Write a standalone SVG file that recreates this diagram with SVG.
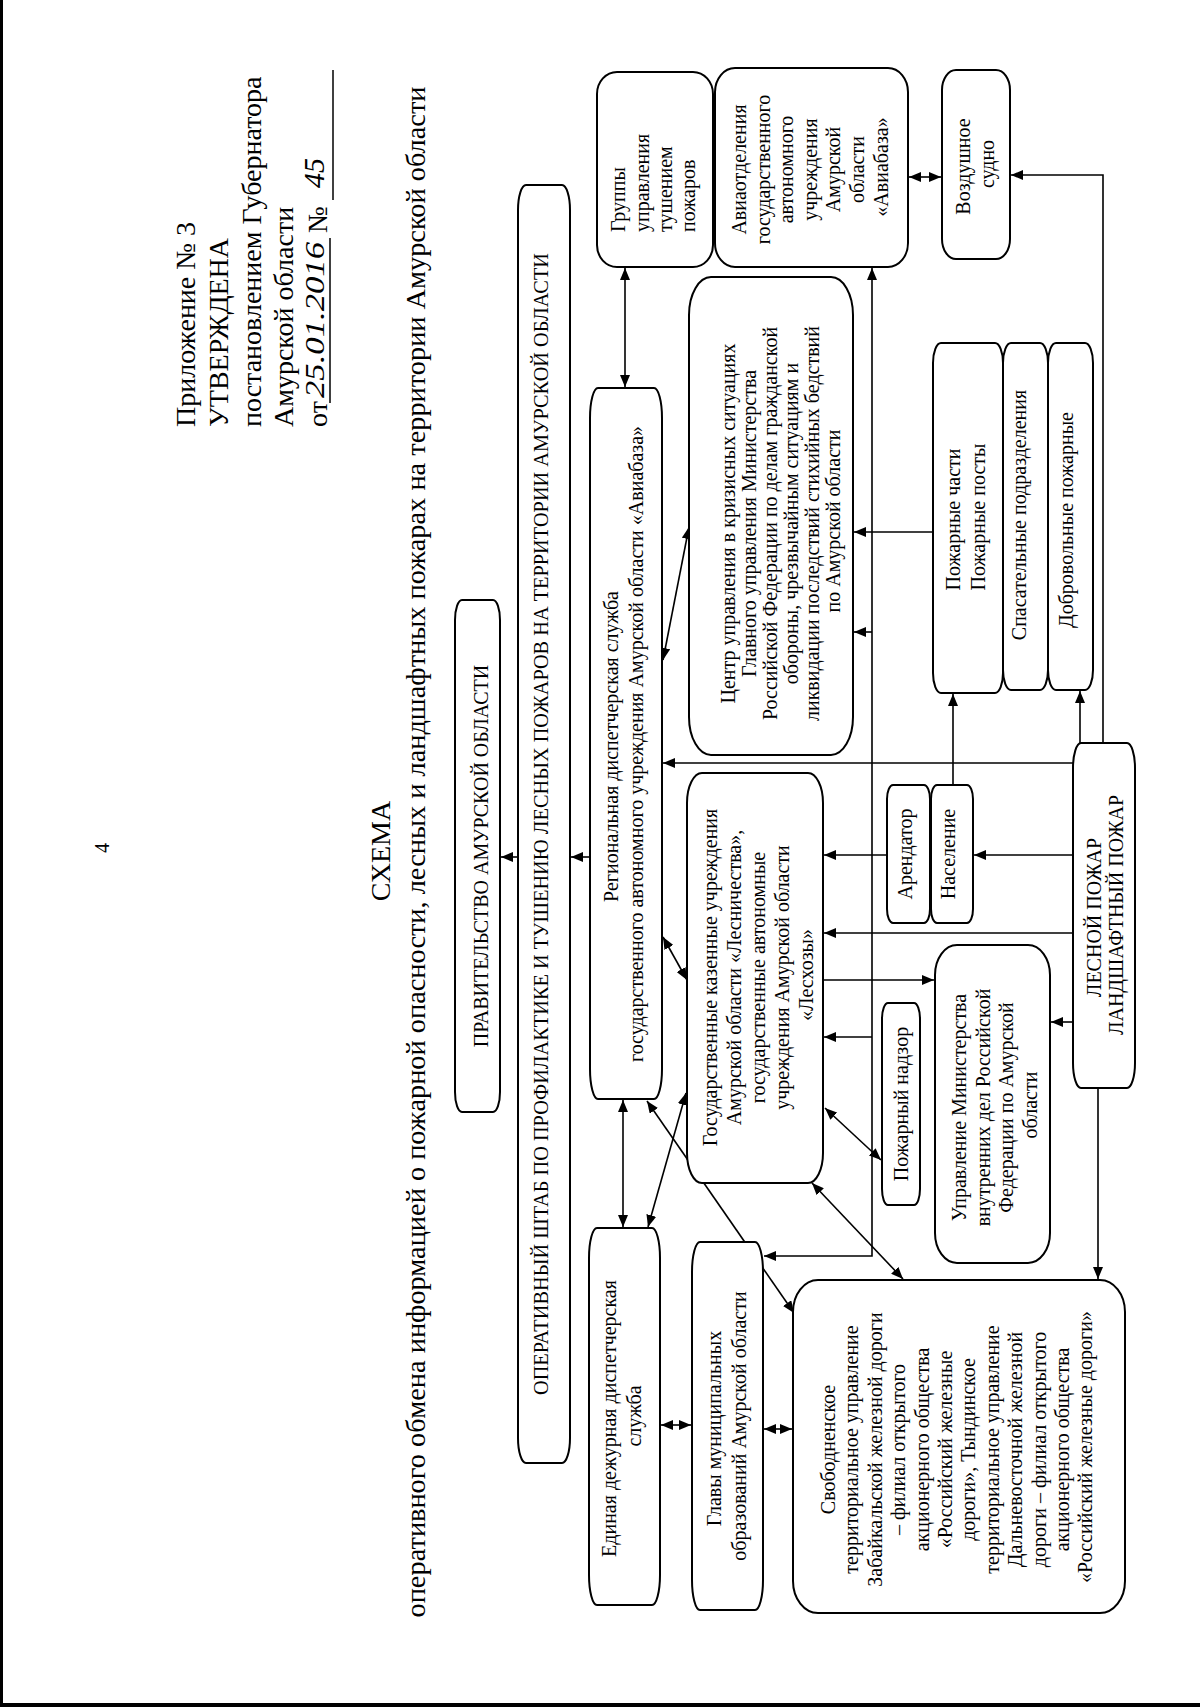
<svg xmlns="http://www.w3.org/2000/svg" width="1200" height="1707" viewBox="0 0 1200 1707">
<style>
.bx{fill:#fff;stroke:#000;stroke-width:2}
.ln{fill:none;stroke:#000;stroke-width:1.6}
.t{font-family:"Liberation Serif","Times New Roman",serif;font-size:20px;fill:#000}
.c{text-anchor:middle}
.h{font-family:"Liberation Serif","Times New Roman",serif;font-size:28px;fill:#000}
.hw{font-family:"Liberation Serif","Times New Roman",serif;font-style:italic;fill:#000}
</style>
<defs>
<marker id="a" viewBox="0 0 12 10" refX="12" refY="5" markerWidth="12" markerHeight="10" markerUnits="userSpaceOnUse" orient="auto-start-reverse"><path d="M0,0L12,5L0,10z" fill="#000"/></marker>
</defs>
<rect x="0" y="0" width="1200" height="1707" fill="#fff"/>
<line x1="1.5" y1="0" x2="1.5" y2="1707" stroke="#000" stroke-width="3"/>
<line x1="0" y1="1705" x2="1200" y2="1705" stroke="#000" stroke-width="4"/>

<g id="page-number"><text class="t c" transform="translate(0,848) rotate(-90)"><tspan x="0" y="109">4</tspan></text></g>

<g id="header">
<text class="h" transform="translate(0,427) rotate(-90)">
<tspan x="0" y="195">Приложение № 3</tspan>
<tspan x="0" y="228">УТВЕРЖДЕНА</tspan>
<tspan x="0" y="261">постановлением Губернатора</tspan>
<tspan x="0" y="293">Амурской области</tspan>
<tspan x="0" y="327">от</tspan>
</text>
<text class="h" transform="translate(0,233) rotate(-90)"><tspan x="0" y="327">№</tspan></text>
<text class="hw" font-size="28" transform="translate(0,398) rotate(-90)" textLength="156" lengthAdjust="spacingAndGlyphs" x="0" y="324">25.01.2016</text>
<text class="hw" font-size="30" transform="translate(0,188) rotate(-90)" x="0" y="324">45</text>
<line x1="330" y1="238" x2="330" y2="403" stroke="#000" stroke-width="1.5"/>
<line x1="333" y1="70" x2="333" y2="200" stroke="#000" stroke-width="1.5"/>
</g>

<g id="title">
<text class="h c" transform="translate(0,851) rotate(-90)"><tspan x="0" y="390">СХЕМА</tspan></text>
<text class="h c" transform="translate(0,852) rotate(-90)" x="0" y="425" textLength="1531" lengthAdjust="spacingAndGlyphs">оперативного обмена информацией о пожарной опасности, лесных и ландшафтных пожарах на территории Амурской области</text>
</g>

<g id="connectors">
<line class="ln" x1="518" y1="857" x2="501" y2="857" marker-end="url(#a)"/>
<line class="ln" x1="590" y1="857" x2="571" y2="857" marker-end="url(#a)"/>
<line class="ln" x1="625" y1="268" x2="625" y2="387" marker-start="url(#a)" marker-end="url(#a)"/>
<line class="ln" x1="663" y1="660" x2="689" y2="527" marker-start="url(#a)" marker-end="url(#a)"/>
<line class="ln" x1="1073" y1="763" x2="663" y2="763" marker-end="url(#a)"/>
<line class="ln" x1="663" y1="937" x2="687" y2="980" marker-start="url(#a)" marker-end="url(#a)"/>
<line class="ln" x1="623" y1="1100" x2="623" y2="1227" marker-start="url(#a)" marker-end="url(#a)"/>
<line class="ln" x1="686" y1="1093" x2="648" y2="1227" marker-start="url(#a)" marker-end="url(#a)"/>
<line class="ln" x1="647" y1="1101" x2="794" y2="1313" marker-start="url(#a)" marker-end="url(#a)"/>
<path class="ln" d="M872,268 L872,1256 L764,1256" marker-start="url(#a)" marker-end="url(#a)"/>
<line class="ln" x1="872" y1="632" x2="854" y2="632" marker-end="url(#a)"/>
<line class="ln" x1="932" y1="532" x2="854" y2="532" marker-end="url(#a)"/>
<line class="ln" x1="872" y1="1037" x2="824" y2="1037" marker-end="url(#a)"/>
<line class="ln" x1="909" y1="177" x2="941" y2="177" marker-start="url(#a)" marker-end="url(#a)"/>
<path class="ln" d="M1103,743 L1103,175 L1011,175" marker-end="url(#a)"/>
<line class="ln" x1="1080" y1="743" x2="1080" y2="691" marker-end="url(#a)"/>
<line class="ln" x1="953" y1="785" x2="953" y2="694" marker-end="url(#a)"/>
<line class="ln" x1="1073" y1="855" x2="974" y2="855" marker-end="url(#a)"/>
<line class="ln" x1="887" y1="855" x2="824" y2="855" marker-end="url(#a)"/>
<line class="ln" x1="1073" y1="933" x2="824" y2="933" marker-end="url(#a)"/>
<line class="ln" x1="823" y1="980" x2="934" y2="980" marker-end="url(#a)"/>
<line class="ln" x1="1073" y1="1022" x2="1051" y2="1022" marker-end="url(#a)"/>
<line class="ln" x1="825" y1="1108" x2="881" y2="1160" marker-start="url(#a)" marker-end="url(#a)"/>
<line class="ln" x1="812" y1="1183" x2="903" y2="1279" marker-start="url(#a)" marker-end="url(#a)"/>
<line class="ln" x1="1098" y1="1088" x2="1098" y2="1279" marker-end="url(#a)"/>
<line class="ln" x1="661" y1="1425" x2="691" y2="1425" marker-start="url(#a)" marker-end="url(#a)"/>
<line class="ln" x1="764" y1="1429" x2="792" y2="1429" marker-start="url(#a)" marker-end="url(#a)"/>
</g>

<g id="n-pravitelstvo">
<rect class="bx" x="455" y="600" width="45" height="512" rx="7" ry="20"/>
<text class="t c" transform="translate(0,856) rotate(-90)"><tspan x="0" y="488">ПРАВИТЕЛЬСТВО АМУРСКОЙ ОБЛАСТИ</tspan></text>
</g>
<g id="n-shtab">
<rect class="bx" x="518" y="185" width="52" height="1278" rx="8" ry="25"/>
<text class="t c" font-size="21" transform="translate(0,824) rotate(-90)" x="0" y="548" textLength="1142" lengthAdjust="spacingAndGlyphs">ОПЕРАТИВНЫЙ ШТАБ ПО ПРОФИЛАКТИКЕ И ТУШЕНИЮ ЛЕСНЫХ ПОЖАРОВ НА ТЕРРИТОРИИ АМУРСКОЙ ОБЛАСТИ</text>
</g>
<g id="n-gruppy">
<rect class="bx" x="597" y="72" width="116" height="195" rx="20" ry="22"/>
<text class="t" transform="translate(0,232) rotate(-90)">
<tspan x="0" y="625">Группы</tspan>
<tspan x="0" y="649">управления</tspan>
<tspan x="0" y="672">тушением</tspan>
<tspan x="0" y="695">пожаров</tspan>
</text>
</g>
<g id="n-aviaotdeleniya">
<rect class="bx" x="715" y="68" width="193" height="199" rx="20" ry="24"/>
<text class="t c" transform="translate(0,167) rotate(-90)">
<tspan x="0" y="746">Авиаотделения</tspan>
<tspan x="0" y="770">государственного</tspan>
<tspan x="0" y="793">автономного</tspan>
<tspan x="0" y="817">учреждения</tspan>
<tspan x="0" y="840">Амурской</tspan>
<tspan x="0" y="864">области</tspan>
<tspan x="0" y="888">«Авиабаза»</tspan>
</text>
</g>
<g id="n-vozdushnoe">
<rect class="bx" x="942" y="70" width="68" height="189" rx="14" ry="20"/>
<text class="t c" transform="translate(0,164) rotate(-90)">
<tspan x="0" y="970">Воздушное</tspan>
<tspan x="0" y="994">судно</tspan>
</text>
</g>
<g id="n-rds">
<rect class="bx" x="590" y="388" width="72" height="711" rx="8" ry="30"/>
<text class="t c" transform="translate(0,744) rotate(-90)">
<tspan x="0" y="618">Региональная диспетчерская служба</tspan>
<tspan x="0" y="643">государственного автономного учреждения Амурской области «Авиабаза»</tspan>
</text>
</g>
<g id="n-tsentr">
<rect class="bx" x="689" y="277" width="164" height="478" rx="22" ry="38"/>
<text class="t c" font-size="19.5" transform="translate(0,521) rotate(-90)">
<tspan x="0" y="735">Центр управления в кризисных ситуациях</tspan>
<tspan x="0" y="756">Главного управления Министерства</tspan>
<tspan x="0" y="777">Российской Федерации по делам гражданской</tspan>
<tspan x="0" y="798">обороны, чрезвычайным ситуациям и</tspan>
<tspan x="0" y="819">ликвидации последствий стихийных бедствий</tspan>
<tspan x="0" y="840">по Амурской области</tspan>
</text>
</g>
<g id="n-pozharnye-chasti">
<rect class="bx" x="933" y="343" width="70" height="350" rx="8" ry="20"/>
<text class="t c" transform="translate(0,517) rotate(-90)">
<tspan x="0" y="960">Пожарные части</tspan>
<tspan x="0" y="985">Пожарные посты</tspan>
</text>
</g>
<g id="n-spasatelnye">
<rect class="bx" x="1003" y="343" width="45" height="347" rx="8" ry="20"/>
<text class="t c" transform="translate(0,515) rotate(-90)"><tspan x="0" y="1026">Спасательные подразделения</tspan></text>
</g>
<g id="n-dobrovolnye">
<rect class="bx" x="1048" y="343" width="45" height="347" rx="8" ry="20"/>
<text class="t c" transform="translate(0,520) rotate(-90)"><tspan x="0" y="1073">Добровольные пожарные</tspan></text>
</g>
<g id="n-gos-uchrezhdeniya">
<rect class="bx" x="687" y="773" width="136" height="410" rx="15" ry="30"/>
<text class="t c" transform="translate(0,975) rotate(-90)">
<tspan x="0" y="717">Государственные казенные учреждения</tspan>
<tspan x="0" y="741">Амурской области «Лесничества»,</tspan>
<tspan x="0" y="765">государственные автономные</tspan>
<tspan x="0" y="789">учреждения Амурской области</tspan>
<tspan x="0" y="813">«Лесхозы»</tspan>
</text>
</g>
<g id="n-arendator">
<rect class="bx" x="887" y="785" width="43" height="138" rx="6" ry="14"/>
<text class="t c" transform="translate(0,854) rotate(-90)"><tspan x="0" y="912">Арендатор</tspan></text>
</g>
<g id="n-naselenie">
<rect class="bx" x="931" y="785" width="42" height="138" rx="6" ry="14"/>
<text class="t c" transform="translate(0,854) rotate(-90)"><tspan x="0" y="955">Население</tspan></text>
</g>
<g id="n-lesnoy-pozhar">
<rect class="bx" x="1073" y="743" width="62" height="345" rx="8" ry="25"/>
<text class="t c" transform="translate(0,915) rotate(-90)">
<tspan x="0" y="1101">ЛЕСНОЙ ПОЖАР</tspan>
<tspan x="0" y="1123">ЛАНДШАФТНЫЙ ПОЖАР</tspan>
</text>
</g>
<g id="n-pozharny-nadzor">
<rect class="bx" x="882" y="1003" width="38" height="202" rx="6" ry="16"/>
<text class="t c" transform="translate(0,1104) rotate(-90)"><tspan x="0" y="908">Пожарный надзор</tspan></text>
</g>
<g id="n-mvd">
<rect class="bx" x="935" y="945" width="115" height="318" rx="22" ry="30"/>
<text class="t c" transform="translate(0,1105) rotate(-90)">
<tspan x="0" y="966">Управление Министерства</tspan>
<tspan x="0" y="990">внутренних дел Российской</tspan>
<tspan x="0" y="1013">Федерации по Амурской</tspan>
<tspan x="0" y="1037">области</tspan>
</text>
</g>
<g id="n-edds">
<rect class="bx" x="589" y="1228" width="71" height="377" rx="8" ry="30"/>
<text class="t c" transform="translate(0,1416) rotate(-90)">
<tspan x="0" y="616">Единая дежурная диспетчерская</tspan>
<tspan x="0" y="641">служба</tspan>
</text>
</g>
<g id="n-glavy">
<rect class="bx" x="692" y="1242" width="71" height="368" rx="8" ry="30"/>
<text class="t c" transform="translate(0,1426) rotate(-90)">
<tspan x="0" y="721">Главы муниципальных</tspan>
<tspan x="0" y="746">образований Амурской области</tspan>
</text>
</g>
<g id="n-zhd">
<rect class="bx" x="793" y="1280" width="332" height="333" rx="25" ry="32"/>
<text class="t c" transform="translate(0,1447) rotate(-90)">
<tspan x="0" y="835">Свободненское</tspan>
<tspan x="0" y="858.4">территориальное управление</tspan>
<tspan x="0" y="881.8">Забайкальской железной дороги</tspan>
<tspan x="0" y="905.2">– филиал открытого</tspan>
<tspan x="0" y="928.6">акционерного общества</tspan>
<tspan x="0" y="952">«Российский железные</tspan>
<tspan x="0" y="975.4">дороги», Тындинское</tspan>
<tspan x="0" y="998.8">территориальное управление</tspan>
<tspan x="0" y="1022.2">Дальневосточной железной</tspan>
<tspan x="0" y="1045.6">дороги – филиал открытого</tspan>
<tspan x="0" y="1069">акционерного общества</tspan>
<tspan x="0" y="1092.4">«Российский железные дороги»</tspan>
</text>
</g>
</svg>
